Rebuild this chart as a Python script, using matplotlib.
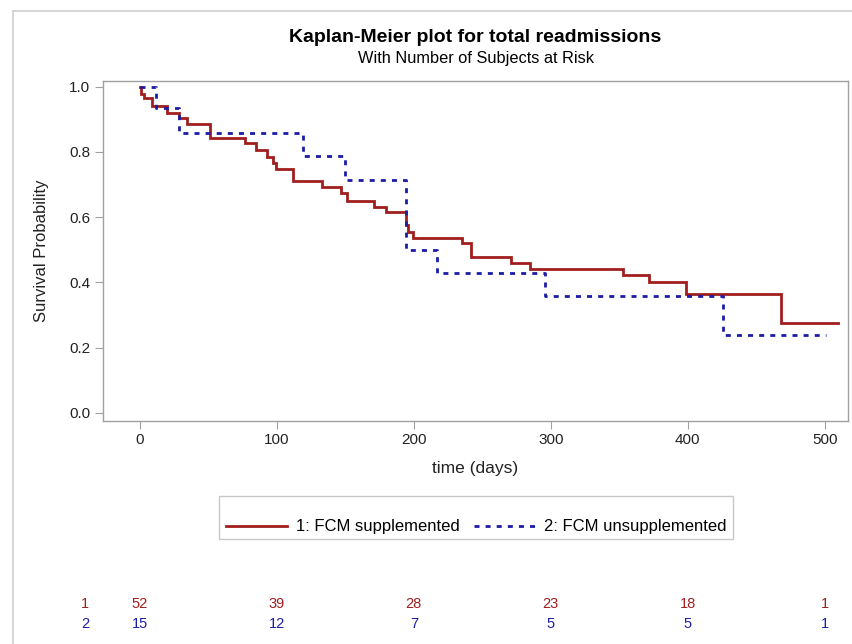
import matplotlib
matplotlib.use("Agg")
import matplotlib.pyplot as plt
from matplotlib.lines import Line2D
from matplotlib.patches import Rectangle

plt.rcParams['font.family'] = ['Liberation Sans', 'DejaVu Sans']

# ---- data ----
times1 = [0, 1, 3, 8.5, 19.5, 28.5, 34.5, 51, 77, 85, 93, 97, 99, 112, 133,
          146.5, 151, 171, 180, 194, 196, 199, 235.5, 242, 271, 285, 353,
          372, 398.5, 468, 510]
surv1 = [1.0, 0.978, 0.964, 0.941, 0.920, 0.903, 0.885, 0.842, 0.828, 0.806,
         0.784, 0.767, 0.748, 0.709, 0.692, 0.673, 0.648, 0.632, 0.614, 0.576,
         0.554, 0.535, 0.520, 0.479, 0.459, 0.441, 0.423, 0.400, 0.365, 0.275,
         0.275]
times2 = [0, 11.7, 28.7, 118.7, 150, 194.6, 216.6, 296, 425.8, 501]
surv2 = [1.0, 0.933, 0.857, 0.786, 0.714, 0.500, 0.429, 0.357, 0.238, 0.238]

group_labels = ["1: FCM supplemented", "2: FCM unsupplemented"]
risk_times = [0, 100, 200, 300, 400, 500]
risk1 = [52, 39, 28, 23, 18, 1]
risk2 = [15, 12, 7, 5, 5, 1]
xticks = [0, 100, 200, 300, 400, 500]
yticks = [0.0, 0.2, 0.4, 0.6, 0.8, 1.0]

RED = '#A01E1E'
BLUE = '#1C1CA6'
GRAY = '#A0A0A0'
W, H = 852, 644

fig = plt.figure(figsize=(W / 100, H / 100), dpi=100)
ax = fig.add_axes([103 / W, 1 - 421 / H, (848 - 103) / W, (421 - 81) / H])

ax.step(times1, surv1, where='post', color=RED, lw=2.0, label=group_labels[0],
        solid_joinstyle='miter')
ax.step(times2, surv2, where='post', color=BLUE, lw=2.0, dashes=(1.8, 2.2),
        label=group_labels[1])

ax.set_xlim(-27, 517)
ax.set_ylim(-0.025, 1.017)
ax.set_xticks(xticks)
ax.set_yticks(yticks)
ax.set_yticklabels([f"{v:.1f}" for v in yticks])
for s in ax.spines.values():
    s.set_color(GRAY)
    s.set_linewidth(1.0)
ax.tick_params(direction='out', length=6, color=GRAY, labelsize=11,
               labelcolor='#222222', pad=3)
ax.set_xlabel("time (days)", fontsize=12.5, color='#222222', labelpad=10)
ax.set_ylabel("Survival Probability", fontsize=12, color='#222222', labelpad=15)

cx = (103 + 848) / 2 / W
fig.text(cx, 1 - 37 / H, "Kaplan-Meier plot for total readmissions",
         ha='center', va='center', fontsize=14, fontweight='bold')
fig.text(cx, 1 - 59 / H, "With Number of Subjects at Risk",
         ha='center', va='center', fontsize=11.8)

# legend with box
fig.add_artist(Rectangle((219 / W, 1 - 539 / H), (733 - 219) / W, 43 / H,
                         transform=fig.transFigure, fill=False,
                         edgecolor='#C8C8C8', lw=1.0))
handles = [Line2D([], [], color=RED, lw=2.0),
           Line2D([], [], color=BLUE, lw=2.0, dashes=(1.8, 2.2))]
fig.legend(handles, group_labels, loc='center', ncol=2, frameon=False,
           bbox_to_anchor=((219 + 733) / 2 / W, 1 - 527 / H),
           fontsize=12, handlelength=3.7, columnspacing=0.85, handletextpad=0.5)

# at-risk table
for lab, vals, col, ypx in (("1", risk1, RED, 604), ("2", risk2, BLUE, 624)):
    fig.text(85 / W, 1 - ypx / H, lab, ha='center', va='center',
             fontsize=10.5, color=col)
    for t, v in zip(risk_times, vals):
        xf = ax.transData.transform((t, 0))[0] / W
        fig.text(xf, 1 - ypx / H, str(v), ha='center', va='center',
                 fontsize=10.5, color=col)

# outer frame
fig.add_artist(Line2D([13 / W, 13 / W], [0, 1 - 11 / H], transform=fig.transFigure,
                      color='#D0D0D0', lw=1.2))
fig.add_artist(Line2D([13 / W, 1], [1 - 11 / H, 1 - 11 / H], transform=fig.transFigure,
                      color='#D0D0D0', lw=1.2))

fig.savefig("out.png", dpi=100)
